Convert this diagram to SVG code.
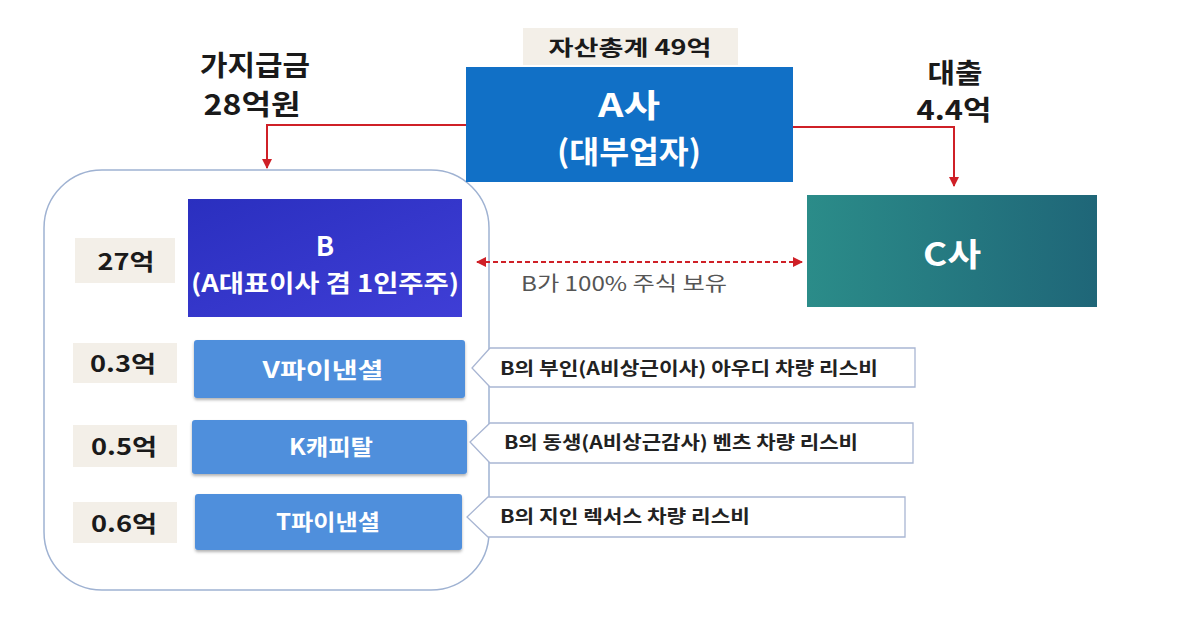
<svg xmlns="http://www.w3.org/2000/svg" width="1182" height="622" viewBox="0 0 1182 622">
<style>
text{font-family:"Noto Sans CJK KR","Noto Sans",sans-serif}
.w{fill:#fff;font-weight:700;text-anchor:middle}
.k{fill:#1a1a1a;font-weight:700;text-anchor:middle}
.beige{fill:#f3efe8}
.sub{fill:#4f8fdc}
.call{fill:#fff;stroke:#a9b6d3;stroke-width:1.3}
.ct{fill:#222;font-weight:700;font-size:18px}
.red{stroke:#cf2027;stroke-width:2;fill:none}
</style>
<defs>
<linearGradient id="gB" x1="0" y1="0" x2="1" y2="1">
<stop offset="0" stop-color="#2a2fbf"/>
<stop offset="1" stop-color="#3f3ed6"/>
</linearGradient>
<linearGradient id="gC" x1="0" y1="0" x2="1" y2="0">
<stop offset="0" stop-color="#2b8c89"/>
<stop offset="1" stop-color="#1f6678"/>
</linearGradient>
<marker id="ar" viewBox="0 0 10 10" refX="9" refY="5" markerWidth="5" markerHeight="5" orient="auto-start-reverse">
<path d="M0,0 L10,5 L0,10 z" fill="#cf2027"/>
</marker>
<filter id="sh" x="-5%" y="-10%" width="110%" height="130%">
<feDropShadow dx="0" dy="2" stdDeviation="1.5" flood-color="#000" flood-opacity="0.3"/>
</filter>
</defs>
<rect width="1182" height="622" fill="#fff"/>

<g id="container">
<rect x="44" y="170" width="445" height="420" rx="58" ry="58" fill="none" stroke="#9fb2d2" stroke-width="1.5"/>
</g>

<g id="label-loan-top">
<text class="k" font-size="28" font-weight="600"><tspan x="255" y="76" textLength="110" lengthAdjust="spacingAndGlyphs">가지급금</tspan><tspan x="252" y="115" textLength="97" lengthAdjust="spacingAndGlyphs">28억원</tspan></text>
</g>

<g id="label-assets">
<rect x="523" y="28" width="215" height="37" class="beige"/>
<text x="630" y="55" class="k" font-size="21" textLength="163" lengthAdjust="spacingAndGlyphs">자산총계 49억</text>
</g>

<g id="node-A">
<rect x="466" y="67" width="327" height="115" fill="#1170c6"/>
<text x="629" y="117" class="w" font-size="32" textLength="62" lengthAdjust="spacingAndGlyphs">A사</text>
<text x="629" y="163" class="w" font-size="31" textLength="144" lengthAdjust="spacingAndGlyphs">(대부업자)</text>
</g>

<g id="label-loan-right">
<text class="k" font-size="27"><tspan x="955" y="83" textLength="55" lengthAdjust="spacingAndGlyphs">대출</tspan><tspan x="954" y="120" textLength="75" lengthAdjust="spacingAndGlyphs">4.4억</tspan></text>
</g>

<g id="node-C">
<rect x="807" y="195" width="290" height="112" fill="url(#gC)"/>
<text x="952" y="266" class="w" font-size="32" textLength="58" lengthAdjust="spacingAndGlyphs">C사</text>
</g>

<g id="node-B">
<rect x="75" y="238" width="100" height="45" class="beige"/>
<text x="126" y="270" class="k" font-size="23" textLength="57" lengthAdjust="spacingAndGlyphs">27억</text>
<rect x="188" y="199" width="274" height="118" fill="url(#gB)"/>
<text x="325" y="256" class="w" font-size="27">B</text>
<text x="325" y="292" class="w" font-size="24" textLength="268" lengthAdjust="spacingAndGlyphs">(A대표이사 겸 1인주주)</text>
</g>

<g id="node-V">
<rect x="73" y="343" width="104" height="40" class="beige"/>
<text x="123" y="372" class="k" font-size="23" textLength="66" lengthAdjust="spacingAndGlyphs">0.3억</text>
<rect x="194" y="340" width="271" height="58" rx="3" class="sub" filter="url(#sh)"/>
<text x="323" y="378" class="w" font-size="22" textLength="121" lengthAdjust="spacingAndGlyphs">V파이낸셜</text>
</g>

<g id="node-K">
<rect x="73" y="425" width="104" height="42" class="beige"/>
<text x="124" y="455" class="k" font-size="23" textLength="66" lengthAdjust="spacingAndGlyphs">0.5억</text>
<rect x="192" y="420" width="275" height="54" rx="3" class="sub" filter="url(#sh)"/>
<text x="331" y="455" class="w" font-size="22" textLength="84" lengthAdjust="spacingAndGlyphs">K캐피탈</text>
</g>

<g id="node-T">
<rect x="73" y="502" width="104" height="41" class="beige"/>
<text x="124" y="532" class="k" font-size="23" textLength="66" lengthAdjust="spacingAndGlyphs">0.6억</text>
<rect x="195" y="494" width="267" height="56" rx="3" class="sub" filter="url(#sh)"/>
<text x="328" y="530" class="w" font-size="22" textLength="104" lengthAdjust="spacingAndGlyphs">T파이낸셜</text>
</g>

<g id="callout-1">
<path d="M490,348 H915 V387 H490 L472,368 Z" class="call"/>
<text x="500" y="375" class="ct" textLength="378" lengthAdjust="spacingAndGlyphs">B의 부인(A비상근이사) 아우디 차량 리스비</text>
</g>
<g id="callout-2">
<path d="M490,423 H913 V463 H490 L470,442 Z" class="call"/>
<text x="504" y="449" class="ct" textLength="354" lengthAdjust="spacingAndGlyphs">B의 동생(A비상근감사) 벤츠 차량 리스비</text>
</g>
<g id="callout-3">
<path d="M488,497 H905 V537 H488 L467,517 Z" class="call"/>
<text x="500" y="523" class="ct" textLength="250" lengthAdjust="spacingAndGlyphs">B의 지인 렉서스 차량 리스비</text>
</g>

<g id="connectors">
<path d="M466,125 H267 V168" class="red" marker-end="url(#ar)"/>
<path d="M793,127 H954 V186" class="red" marker-end="url(#ar)"/>
<line x1="477" y1="262" x2="802" y2="262" class="red" stroke-dasharray="5,3" marker-start="url(#ar)" marker-end="url(#ar)"/>
<text x="624" y="291" font-size="20" fill="#555" text-anchor="middle" textLength="206" lengthAdjust="spacingAndGlyphs">B가 100% 주식 보유</text>
</g>
</svg>
